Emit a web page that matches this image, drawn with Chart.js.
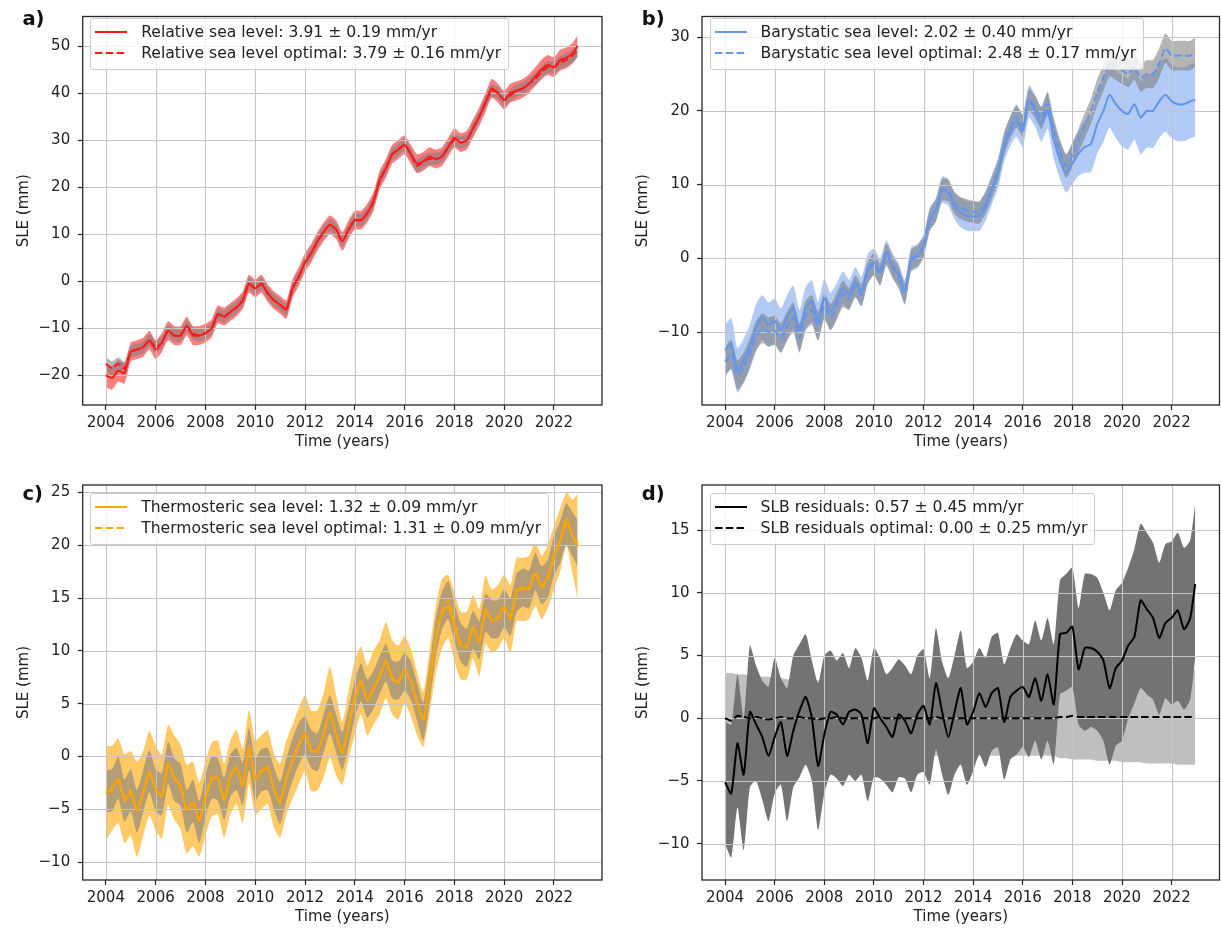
<!DOCTYPE html>
<html><head><meta charset="utf-8">
<script src="https://cdn.jsdelivr.net/npm/chart.js@4.4.1/dist/chart.umd.min.js"></script>
<style>
html,body{margin:0;padding:0;background:#fff;}
body{width:1221px;height:930px;position:relative;overflow:hidden;font-family:"DejaVu Sans",sans-serif;}
canvas{position:absolute;}
.lbl{position:absolute;font-weight:bold;font-size:19.5px;line-height:1;color:#111;white-space:nowrap;}
.leg{position:absolute;background:rgba(255,255,255,0.8);border:1px solid #cccccc;border-radius:3px;padding:2.4px 7px 4.9px 4px;font-size:15.6px;color:#222;}
.row{height:21.6px;display:flex;align-items:center;white-space:nowrap;}
.row svg{margin-right:14px;flex:none;}
</style></head><body>
<canvas id="ca" width="610" height="465" style="left:0;top:0"></canvas>
<canvas id="cb" width="611" height="465" style="left:610px;top:0"></canvas>
<canvas id="cc" width="610" height="465" style="left:0;top:465px"></canvas>
<canvas id="cd" width="611" height="465" style="left:610px;top:465px"></canvas>

<div class="lbl" style="left:22.4px;top:9.3px">a)</div>
<div class="lbl" style="left:641.7px;top:9.3px">b)</div>
<div class="lbl" style="left:22.4px;top:484.3px">c)</div>
<div class="lbl" style="left:641.7px;top:484.3px">d)</div>

<div id="legends"></div>

<script>
// ---------------- data ----------------
const years = [
2004,2004.25,2004.5,2004.75,
2005,2005.25,2005.5,2005.75,
2006,2006.25,2006.5,2006.75,
2007,2007.25,2007.5,2007.75,
2008,2008.25,2008.5,2008.75,
2009,2009.25,2009.5,2009.75,
2010,2010.25,2010.5,2010.75,
2011,2011.25,2011.5,2011.75,
2012,2012.25,2012.5,2012.75,
2013,2013.25,2013.5,2013.75,
2014,2014.25,2014.5,2014.75,
2015,2015.25,2015.5,2015.75,
2016,2016.25,2016.5,2016.75,
2017,2017.25,2017.5,2017.75,
2018,2018.25,2018.5,2018.75,
2019,2019.25,2019.5,2019.75,
2020,2020.25,2020.5,2020.75,
2021,2021.25,2021.5,2021.75,
2022,2022.25,2022.5,2022.75,
2022.95];

const xTicks = [2004,2006,2008,2010,2012,2014,2016,2018,2020,2022];
const aTicks = [-20,-10,0,10,20,30,40,50];
const bTicks = [-10,0,10,20,30];
const cTicks = [-10,-5,0,5,10,15,20,25];
const dTicks = [-10,-5,0,5,10,15];

// a) relative sea level
const aRel = [
-20,-20.5,-19,-19.5,
-15,-14.5,-14,-12.5,
-14.5,-13,-10.5,-11.5,
-11.5,-9.5,-11.5,-11.5,
-11,-10,-7,-7.5,
-6.5,-5.5,-4,-0.5,
-1.5,-0.5,-2.5,-4,
-5,-6,-1.5,1,
4,6,8.5,10.5,
12,11,8.5,11,
13,13,14.5,17,
21.5,24,27,28,
29,27,25,25.5,
26.5,26,26.5,28.5,
30.5,29.5,30,32.5,
35,38,41,40,
38.5,40,40.5,41,
42,43.5,45,46,
45.5,47,47.5,48.5,
50];
const aRelErr = [
2.5,2.5,2.3,2.2,
2.0,2.0,2.0,2.0,
2.0,2.0,2.0,2.0,
2.0,2.0,2.0,2.0,
2.0,1.9,1.9,1.9,
1.9,1.9,1.9,1.9,
1.9,1.9,1.9,1.9,
1.9,2.0,2.0,2.0,
2.0,2.0,2.0,2.0,
2.0,2.0,2.0,2.0,
2.0,2.0,2.0,2.0,
2.0,2.0,2.0,2.0,
2.0,2.0,2.0,2.0,
2.0,2.0,2.0,2.0,
2.0,2.0,2.0,2.0,
2.0,2.0,2.0,2.0,
2.0,2.0,2.0,2.0,
2.0,2.0,2.1,2.1,
2.1,2.2,2.2,2.2,
2.3];
const aOpt = [
-17.5,-18.5,-17.5,-18.5,
-15,-14.5,-14,-12.5,
-14,-13,-10.5,-11.5,
-11.5,-9.5,-11,-11.5,
-11,-10,-7,-7.5,
-6.5,-5.5,-4,-0.5,
-1.5,-0.5,-2.5,-4,
-5,-6,-1.5,1,
4,6,8.5,10.5,
12,11,8.5,11,
13,13,14.5,17,
21.5,24,27,28,
29,27,24.5,25.5,
26,26,26.5,28.5,
30,29.5,30,32.5,
35,38,40.5,40,
38.5,39.5,40.5,41,
42,43,44.5,45.5,
45.5,46.5,47,48,
49];
const aOptErr = [
1.5,1.5,1.4,1.4,
1.3,1.3,1.3,1.3,
1.3,1.3,1.3,1.3,
1.3,1.3,1.3,1.3,
1.3,1.3,1.3,1.3,
1.3,1.3,1.3,1.3,
1.3,1.3,1.3,1.3,
1.3,1.3,1.3,1.3,
1.3,1.3,1.3,1.3,
1.3,1.3,1.3,1.3,
1.3,1.3,1.3,1.3,
1.3,1.3,1.3,1.3,
1.3,1.3,1.3,1.3,
1.3,1.3,1.3,1.3,
1.3,1.3,1.3,1.3,
1.3,1.3,1.3,1.3,
1.3,1.3,1.3,1.3,
1.3,1.3,1.3,1.3,
1.3,1.4,1.4,1.4,
1.4];

// b) barystatic sea level
const bBar = [
-12.5,-11.6,-15.2,-13.9,
-12,-9.4,-8,-9,
-8.5,-9.8,-8,-6.7,
-9.8,-6.7,-5.8,-8.5,
-5.4,-7.2,-5.8,-4,
-4.9,-3.2,-4.5,-1.4,
-0.5,-1.8,0.8,-0.9,
-2.3,-4.5,0,0.4,
1.7,5.3,6.6,9.3,
8.9,7.1,6.2,5.7,
5.7,5.7,7.1,9.3,
11.5,15.1,17.3,18.7,
17.3,21.3,20,18.2,
20,16,13.3,11.5,
12.9,14.2,15.1,15.5,
18.2,20,22.2,20.9,
20,19.6,20.9,19.1,
20,20,21.3,22.2,
21.3,20.9,20.9,21.3,
21.5];
const bBarErr = [
3.5,3.5,3.0,3.0,
3.0,3.2,3.0,3.0,
3.0,3.0,3.0,3.0,
2.8,2.8,2.8,2.6,
2.6,2.5,2.4,2.2,
2.0,2.0,2.0,2.0,
1.8,1.8,1.6,1.6,
1.6,1.6,1.5,1.5,
1.5,1.5,1.6,1.8,
1.8,1.8,2.0,2.0,
2.0,2.0,2.0,2.0,
2.0,2.0,2.0,2.2,
2.2,2.2,2.2,2.4,
2.4,2.5,2.5,2.6,
2.8,3.0,3.5,3.8,
4.0,4.2,4.5,4.6,
4.8,4.8,4.8,5.0,
5.0,5.0,5.0,5.0,
5.0,5.0,5.0,5.0,
5.0];
const bOpt = [
-14,-13,-15.8,-14.8,
-12.8,-10.5,-9.5,-10,
-9.8,-10.8,-9.2,-8,
-10.8,-7.8,-7,-9.2,
-6.5,-8,-6.5,-4.8,
-5.5,-3.8,-5,-2,
-0.8,-2.2,0.5,-1.2,
-2.6,-4.8,-0.3,0.2,
1.5,5.2,6.5,9.3,
9.2,7.5,6.8,6.5,
6.3,6.2,7.5,9.5,
11.8,15.5,17.8,19.2,
18,21.5,20.5,19,
21,17.5,14.5,12.5,
14,16,18,20,
22.5,24.5,26.5,26,
25.5,25,26,24.5,
25,25,26.5,28.5,
27.5,27.5,27.5,27.5,
28];
const bOptErr = [
2.0,2.0,2.0,2.0,
2.0,2.0,2.0,2.0,
2.0,2.0,2.0,2.0,
2.0,2.0,2.0,2.0,
1.8,1.8,1.8,1.8,
1.5,1.5,1.5,1.5,
1.5,1.5,1.5,1.5,
1.5,1.5,1.5,1.5,
1.5,1.5,1.5,1.5,
1.5,1.5,1.5,1.5,
1.5,1.5,1.5,1.5,
1.5,1.5,1.5,1.5,
1.5,1.5,1.5,1.5,
1.6,1.6,1.6,1.6,
1.6,1.6,1.7,1.7,
1.8,1.8,1.8,1.8,
1.8,1.8,1.8,1.9,
1.9,1.9,2.0,2.0,
2.0,2.0,2.0,2.0,
2.0];

// c) thermosteric sea level
const cThermo = [
-3.5,-3.0,-2.3,-4.0,
-3.5,-5.0,-3.5,-1.6,
-3.0,-3.8,-0.8,-2.0,
-2.9,-5.0,-4.5,-6.0,
-4.0,-2.2,-2.0,-4.2,
-2.0,-1.0,-2.8,0.9,
-2.0,-1.5,-1.0,-3.2,
-4.2,-2.0,-0.5,1.0,
2.2,0.5,0.6,2.0,
4.2,2.0,0.3,3.0,
5.6,7.2,5.3,6.5,
7.5,9.1,7.5,7.0,
8.2,7.0,5.0,3.5,
7.0,11.0,13.5,14.2,
12.3,10.5,10.5,12.3,
10.8,13.9,12.8,13.2,
14.2,13.0,15.8,15.8,
16.0,17.3,16.0,17.0,
18.8,20.5,22.5,20.8,
19.9];
const cThermoErr = [
4.5,4.0,4.0,4.2,
4.0,4.5,4.0,4.0,
4.0,4.0,3.8,4.0,
4.0,4.2,4.0,3.5,
3.5,3.5,3.5,3.5,
3.5,3.5,3.5,3.5,
3.5,3.5,3.5,3.5,
3.5,3.5,3.5,3.6,
3.6,3.8,3.8,4.0,
4.3,3.8,3.0,3.2,
3.5,3.2,3.3,3.5,
3.5,3.6,3.5,3.5,
3.2,3.2,3.0,2.6,
3.0,3.2,3.3,3.0,
3.2,3.2,3.2,3.0,
3.2,3.2,3.0,3.0,
3.0,3.2,3.0,3.0,
3.0,3.0,3.0,3.0,
3.0,3.0,2.5,3.5,
5.0];
const cOpt = [
-3.3,-3.2,-2.0,-4.2,
-3.2,-5.2,-3.3,-1.4,
-3.2,-3.6,-0.6,-2.2,
-2.7,-5.2,-4.2,-6.2,
-3.8,-2.0,-2.2,-4.0,
-1.8,-1.2,-2.6,0.7,
-2.2,-1.3,-1.2,-3.0,
-4.4,-2.2,-0.3,1.2,
2.0,0.7,0.4,2.2,
4.0,2.2,0.5,2.8,
5.4,7.0,5.5,6.3,
7.7,8.9,7.3,7.2,
8.0,7.2,5.2,3.3,
6.8,11.2,13.8,14.8,
12.8,10.8,10.3,12.0,
11.0,13.6,13.0,13.0,
14.0,13.2,15.5,16.0,
15.8,17.5,16.2,16.8,
19.0,20.3,22.0,21.0,
20.2];
const cOptErr = [
2.0,2.0,2.0,2.0,
2.0,2.0,2.0,2.0,
2.0,2.0,2.0,2.0,
2.0,2.0,2.0,2.0,
2.0,2.0,2.0,2.0,
2.0,2.0,2.0,2.0,
2.0,2.0,2.0,2.0,
2.0,2.0,2.0,2.0,
1.8,1.8,1.8,1.8,
1.8,1.8,1.8,1.8,
1.8,1.8,1.8,1.8,
1.8,1.8,1.8,1.8,
1.8,1.8,1.8,1.8,
1.8,1.8,1.8,1.8,
1.8,1.8,1.8,1.8,
1.8,1.8,1.8,1.8,
1.8,1.8,1.8,1.8,
1.8,1.8,1.8,1.8,
1.9,2.0,2.0,2.1,
2.2];

// d) SLB residuals
const dRes = [
-5.1,-6.0,-2.0,-4.5,
0.5,-0.5,-1.5,-3.0,
-1.5,-0.3,-3.0,-1.0,
0.6,1.7,0.0,-3.8,
-1.3,0.5,0.3,-0.5,
0.5,0.7,0.3,-2.0,
0.8,0.0,-0.7,-1.5,
0.3,-0.2,-1.2,0.3,
1.0,-0.5,2.8,0.5,
-1.5,0.5,2.4,-0.5,
0.5,2.0,0.9,2.0,
2.4,-0.3,1.7,2.2,
2.5,1.7,3.2,1.4,
3.5,1.1,6.7,6.8,
7.3,3.9,5.6,5.6,
5.3,4.6,2.4,4.0,
4.6,5.8,6.5,9.4,
8.7,8.0,6.4,7.6,
8.0,8.6,7.1,8.0,
10.7];
const dResHi = [
-0.3,-0.5,3.5,0.0,
5.8,4.2,3.0,2.5,
4.8,3.2,2.4,5.0,
5.9,6.7,4.6,2.8,
5.0,5.4,4.6,5.2,
4.0,5.6,4.8,3.0,
5.6,4.8,3.5,4.0,
4.7,4.2,3.5,5.0,
5.5,3.2,7.2,4.5,
3.2,5.0,7.0,4.0,
4.5,5.6,4.8,6.5,
6.8,4.3,5.6,6.7,
6.2,5.9,7.8,6.2,
8.0,5.9,11.0,11.5,
12.0,8.8,11.5,11.5,
11.2,10.0,8.6,10.2,
10.8,12.0,13.5,15.5,
14.8,14.0,12.4,13.9,
14.1,14.8,13.6,14.2,
17.1];
const dResLo = [
-10.0,-11.1,-7.1,-10.5,
-5.5,-5.0,-6.5,-8.2,
-6.0,-5.3,-8.2,-5.5,
-4.7,-3.7,-5.0,-8.9,
-6.0,-4.5,-4.8,-5.4,
-4.5,-5.0,-4.5,-6.6,
-4.7,-4.8,-5.3,-5.9,
-4.7,-4.8,-5.9,-4.5,
-4.3,-5.3,-2.5,-4.5,
-6.1,-4.5,-3.7,-5.3,
-4.2,-2.9,-3.9,-2.6,
-2.3,-4.9,-3.3,-2.9,
-2.3,-3.1,-1.8,-3.3,
-1.8,-3.7,1.9,2.2,
2.5,-0.5,-1.0,-0.7,
-1.0,-1.8,-3.7,-2.2,
-1.8,0.0,1.2,2.4,
1.9,1.5,0.3,1.6,
1.1,1.4,0.7,1.5,
4.8];
const dOpt = [
0.0,-0.2,0.2,0.1,
0.0,0.1,0.0,-0.1,
0.0,0.1,0.0,0.0,
0.1,0.0,0.0,-0.1,
0.0,0.0,0.1,0.0,
0.0,0.0,0.0,0.0,
0.0,0.1,0.0,0.0,
0.0,0.0,0.0,0.0,
0.0,0.0,0.1,0.0,
0.0,0.0,0.0,0.0,
0.0,0.0,0.0,0.0,
0.0,0.0,0.0,0.0,
0.0,0.0,0.0,0.0,
0.0,0.0,0.1,0.1,
0.2,0.1,0.1,0.1,
0.1,0.1,0.1,0.1,
0.1,0.1,0.1,0.1,
0.1,0.1,0.1,0.1,
0.1,0.1,0.1,0.1,
0.2];
const dOptHi = [
3.6,3.6,3.5,3.5,
3.4,3.4,3.3,3.3,
3.2,3.2,3.1,3.1,
3.0,3.0,3.0,3.0,
3.0,3.0,3.0,3.0,
3.0,3.0,3.0,3.0,
3.0,3.0,3.0,3.0,
3.0,3.0,3.0,3.0,
3.0,3.0,3.0,3.0,
3.0,3.0,3.0,3.0,
3.0,3.0,3.0,3.0,
3.0,3.0,3.0,3.0,
3.0,3.0,3.0,3.0,
3.0,3.0,3.3,3.3,
3.4,3.4,3.4,3.4,
3.5,3.5,3.5,3.5,
3.6,3.6,3.6,3.6,
3.7,3.7,3.7,3.7,
3.7,3.7,3.8,3.8,
3.8];
const dOptLo = [
-3.6,-3.6,-3.5,-3.5,
-3.4,-3.4,-3.3,-3.3,
-3.2,-3.2,-3.1,-3.1,
-3.0,-3.0,-3.0,-3.0,
-3.0,-3.0,-3.0,-3.0,
-3.0,-3.0,-3.0,-3.0,
-3.0,-3.0,-3.0,-3.0,
-3.0,-3.0,-3.0,-3.0,
-3.0,-3.0,-3.0,-3.0,
-3.0,-3.0,-3.0,-3.0,
-3.0,-3.0,-3.0,-3.0,
-3.0,-3.0,-3.0,-3.0,
-3.0,-3.0,-3.0,-3.0,
-3.0,-3.0,-3.2,-3.2,
-3.3,-3.3,-3.3,-3.3,
-3.4,-3.4,-3.4,-3.4,
-3.5,-3.5,-3.5,-3.5,
-3.6,-3.6,-3.6,-3.6,
-3.6,-3.7,-3.7,-3.7,
-3.7];

const legendLabels = {
  a: ['Relative sea level: 3.91 \u00b1 0.19 mm/yr', 'Relative sea level optimal: 3.79 \u00b1 0.16 mm/yr'],
  b: ['Barystatic sea level: 2.02 \u00b1 0.40 mm/yr', 'Barystatic sea level optimal: 2.48 \u00b1 0.17 mm/yr'],
  c: ['Thermosteric sea level: 1.32 \u00b1 0.09 mm/yr', 'Thermosteric sea level optimal: 1.31 \u00b1 0.09 mm/yr'],
  d: ['SLB residuals: 0.57 \u00b1 0.45 mm/yr', 'SLB residuals optimal: 0.00 \u00b1 0.25 mm/yr']
};

// ---------------- helpers ----------------
const RED = '#ff1a1a', BLUE = '#6495ED', ORANGE = '#FFA500', BLACK = '#000000';
const DASH = [7.5, 3.3];
const TEN = 0.2;
const pts = arr => years.map((t, i) => ({x: t, y: arr[i]}));
const minus = (c, e) => c.map((v, i) => v - e[i]);
const plus = (c, e) => c.map((v, i) => v + e[i]);
function band(lo, hi, color, order) {
  return [
    {data: pts(lo), borderWidth: 0, borderColor: 'rgba(0,0,0,0)', pointRadius: 0, fill: false, order, tension: TEN},
    {data: pts(hi), borderWidth: 0, borderColor: 'rgba(0,0,0,0)', pointRadius: 0, fill: '-1', backgroundColor: color, order, tension: TEN}
  ];
}
function line(arr, color, dash, order) {
  return {data: pts(arr), borderColor: color, borderWidth: 2, borderDash: dash || [], pointRadius: 0, fill: false, order, tension: TEN};
}

Chart.defaults.font.family = '"DejaVu Sans", sans-serif';
Chart.defaults.font.size = 15;
Chart.defaults.color = '#222';

function drawGrid(chart) {
  const {ctx, chartArea: a, scales: {x, y}} = chart;
  ctx.save();
  ctx.strokeStyle = '#c4c4c4';
  ctx.lineWidth = 1.1;
  ctx.beginPath();
  x.ticks.forEach(t => { const p = Math.round(x.getPixelForValue(t.value)) + 0.5; ctx.moveTo(p, a.top); ctx.lineTo(p, a.bottom); });
  y.ticks.forEach(t => { const p = Math.round(y.getPixelForValue(t.value)) + 0.5; ctx.moveTo(a.left, p); ctx.lineTo(a.right, p); });
  ctx.stroke();
  ctx.restore();
}
const mplPlugin = {
  id: 'mpl',
  beforeDraw(chart) { chart.$gridDone = false; },
  beforeDatasetDraw(chart) { if (!chart.$gridDone) { chart.$gridDone = true; drawGrid(chart); } },
  afterDatasetsDraw(chart) {
    if (!chart.$gridDone) { chart.$gridDone = true; drawGrid(chart); }
    const {ctx, chartArea: a} = chart;
    ctx.save();
    ctx.strokeStyle = '#262626';
    ctx.lineWidth = 1.3;
    ctx.strokeRect(a.left, a.top, a.right - a.left, a.bottom - a.top);
    ctx.restore();
  }
};

function makePanel(p) {
  new Chart(document.getElementById(p.id), {
    type: 'line',
    data: {datasets: p.datasets},
    plugins: [mplPlugin],
    options: {
      responsive: false, animation: false, events: [],
      layout: {padding: {left: 0, top: p.padTop, right: p.padRight, bottom: 0}},
      plugins: {legend: {display: false}, tooltip: {enabled: false}, filler: {drawTime: 'beforeDatasetsDraw'}},
      scales: {
        x: {
          type: 'linear', min: 2003.07, max: 2023.93,
          afterBuildTicks: s => { s.ticks = xTicks.map(v => ({value: v})); },
          afterFit: s => { s.height = p.xAxisH; },
          ticks: {autoSkip: false, maxRotation: 0, padding: 4, callback: v => String(v)},
          grid: {drawOnChartArea: false, drawTicks: true, tickLength: 5, tickColor: '#262626', tickWidth: 1.2},
          border: {display: false},
          title: {display: true, text: 'Time (years)', padding: {top: 0, bottom: p.xTitlePad}}
        },
        y: {
          type: 'linear', min: p.yMin, max: p.yMax,
          afterBuildTicks: s => { s.ticks = p.yTicks.map(v => ({value: v})); },
          afterFit: s => { s.width = p.yAxisW; },
          ticks: {autoSkip: false, padding: 7.5, callback: v => String(v).replace('-', '\u2212')},
          grid: {drawOnChartArea: false, drawTicks: true, tickLength: 5, tickColor: '#262626', tickWidth: 1.2},
          border: {display: false},
          title: {display: true, text: 'SLE (mm)', padding: {top: p.yTitlePad, bottom: 0}}
        }
      }
    }
  });
}

const GRAYBAND = 'rgba(128,128,128,0.58)';

makePanel({id: 'ca', padTop: 10, padRight: 8, yAxisW: 82.7, xAxisH: 60, yMin: -26.27, yMax: 56.27, yTicks: aTicks, yTitlePad: 15.5, xTitlePad: 14,
  datasets: [
    ...band(minus(aRel, aRelErr), plus(aRel, aRelErr), 'rgba(255,0,0,0.5)', 60),
    ...band(minus(aOpt, aOptErr), plus(aOpt, aOptErr), GRAYBAND, 50),
    line(aOpt, RED, DASH, 20),
    line(aRel, RED, null, 10)
  ]});

makePanel({id: 'cb', padTop: 10, padRight: 1.5, yAxisW: 92, xAxisH: 60, yMin: -19.9, yMax: 32.8, yTicks: bTicks, yTitlePad: 24, xTitlePad: 14,
  datasets: [
    ...band(minus(bBar, bBarErr), plus(bBar, bBarErr), 'rgba(100,149,237,0.5)', 60),
    ...band(minus(bOpt, bOptErr), plus(bOpt, bOptErr), GRAYBAND, 50),
    line(bOpt, BLUE, DASH, 20),
    line(bBar, BLUE, null, 10)
  ]});

makePanel({id: 'cc', padTop: 20, padRight: 8, yAxisW: 82.7, xAxisH: 50, yMin: -11.7, yMax: 25.7, yTicks: cTicks, yTitlePad: 15, xTitlePad: 4,
  datasets: [
    ...band(minus(cThermo, cThermoErr), plus(cThermo, cThermoErr), 'rgba(255,165,0,0.6)', 60),
    ...band(minus(cOpt, cOptErr), plus(cOpt, cOptErr), GRAYBAND, 50),
    line(cOpt, ORANGE, DASH, 20),
    line(cThermo, ORANGE, null, 10)
  ]});

makePanel({id: 'cd', padTop: 20, padRight: 1.5, yAxisW: 92, xAxisH: 50, yMin: -12.9, yMax: 18.6, yTicks: dTicks, yTitlePad: 24, xTitlePad: 4,
  datasets: [
    ...band(dOptLo, dOptHi, 'rgba(128,128,128,0.5)', 60),
    ...band(dResLo, dResHi, 'rgba(115,115,115,1)', 50),
    line(dOpt, BLACK, DASH, 20),
    line(dRes, BLACK, null, 10)
  ]});

// ---------------- legends (HTML text) ----------------
function sample(color, dashed) {
  return '<svg width="32" height="6"><line x1="0" y1="3" x2="32" y2="3" stroke="' + color + '" stroke-width="2"' +
    (dashed ? ' stroke-dasharray="' + DASH.join(',') + '"' : '') + '/></svg>';
}
const legPos = [
  {k: 'a', left: 90.2, top: 17.5, color: RED},
  {k: 'b', left: 709.5, top: 17.5, color: BLUE},
  {k: 'c', left: 90.2, top: 492.5, color: ORANGE},
  {k: 'd', left: 709.5, top: 492.5, color: BLACK}
];
let html = '';
legPos.forEach(L => {
  const lab = legendLabels[L.k];
  html += '<div class="leg" style="left:' + L.left + 'px;top:' + L.top + 'px">' +
    '<div class="row">' + sample(L.color, false) + '<span>' + lab[0] + '</span></div>' +
    '<div class="row">' + sample(L.color, true) + '<span>' + lab[1] + '</span></div></div>';
});
document.getElementById('legends').innerHTML = html;
</script>
</body></html>
